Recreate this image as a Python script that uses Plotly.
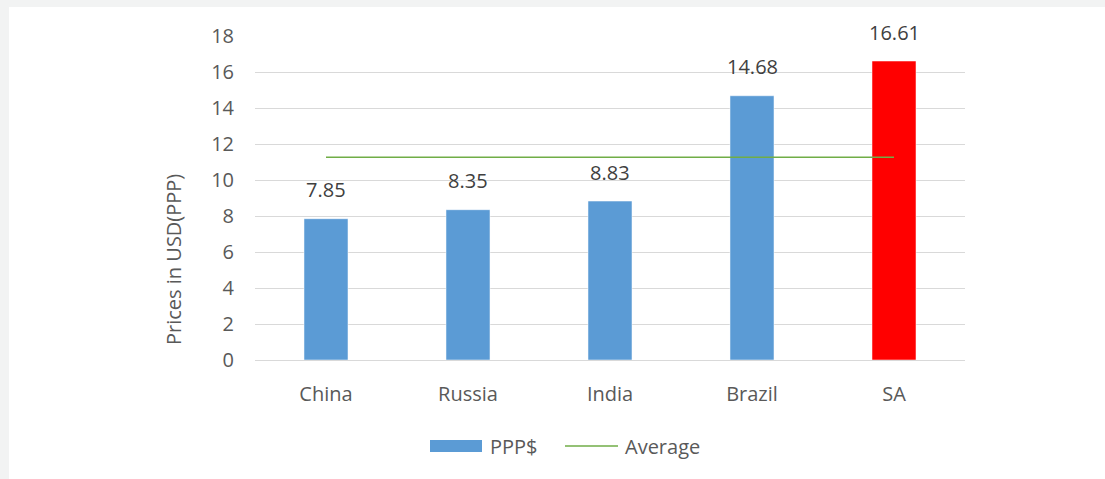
import plotly.graph_objects as go

categories = ["China", "Russia", "India", "Brazil", "SA"]
ppp_values = [7.85, 8.35, 8.83, 14.68, 16.61]
bar_colors = ["#5b9bd5", "#5b9bd5", "#5b9bd5", "#5b9bd5", "#ff0000"]
value_labels = ["7.85", "8.35", "8.83", "14.68", "16.61"]
y_ticks = [0, 2, 4, 6, 8, 10, 12, 14, 16, 18]
series_names = ["PPP$", "Average"]

average = sum(ppp_values) / len(ppp_values)

W, H = 1105, 479
L, R, T, B = 255, 140, 36, 119
PW, PH = W - L - R, H - T - B


def px(x):
    return (x - L) / PW


def py(y):
    return (H - B - y) / PH


FONT = "Open Sans"
TXT = "#595959"
BLUE = "#5b9bd5"
GREEN = "#70ad47"

fig = go.Figure()
fig.add_trace(go.Bar(
    x=categories, y=ppp_values, name=series_names[0],
    marker=dict(color=bar_colors, line=dict(color="rgba(255,255,255,0.5)", width=1)),
    width=0.31, showlegend=False,
))
fig.add_trace(go.Scatter(
    x=[categories[0], categories[-1]], y=[average, average], name=series_names[1],
    mode="lines", line=dict(color=GREEN, width=1.6), showlegend=False,
))

for c, v, t in zip(categories, ppp_values, value_labels):
    fig.add_annotation(x=c, y=v, text=t, showarrow=False, yanchor="middle",
                       yshift=29, font=dict(family=FONT, size=20, color="#404040"))

fig.add_annotation(xref="paper", yref="paper", x=px(173), y=py(260),
                   text="Prices in USD(PPP)", textangle=-90, showarrow=False,
                   xanchor="center", yanchor="middle",
                   font=dict(family=FONT, size=20, color=TXT))

# legend (drawn manually to reproduce wide swatches)
fig.add_shape(type="rect", xref="paper", yref="paper", x0=px(430), x1=px(482),
              y0=py(452), y1=py(440), fillcolor=BLUE, line_width=0)
fig.add_annotation(xref="paper", yref="paper", x=px(488), y=py(446), text=series_names[0],
                   showarrow=False, xanchor="left", yanchor="middle",
                   font=dict(family=FONT, size=20, color=TXT))
fig.add_shape(type="line", xref="paper", yref="paper", x0=px(565), x1=px(618),
              y0=py(446), y1=py(446), line=dict(color=GREEN, width=1.6))
fig.add_annotation(xref="paper", yref="paper", x=px(623), y=py(446), text=series_names[1],
                   showarrow=False, xanchor="left", yanchor="middle",
                   font=dict(family=FONT, size=20, color=TXT))

gray = "#f2f3f3"
fig.add_shape(type="rect", xref="paper", yref="paper", x0=px(0), x1=px(W),
              y0=py(0), y1=py(7), fillcolor=gray, line_width=0, layer="below")
fig.add_shape(type="rect", xref="paper", yref="paper", x0=px(0), x1=px(9),
              y0=py(0), y1=py(H), fillcolor=gray, line_width=0, layer="below")

fig.update_layout(
    width=W, height=H,
    margin=dict(l=L, r=R, t=T, b=B),
    paper_bgcolor="white", plot_bgcolor="white",
    bargap=0.69,
    showlegend=False,
    font=dict(family=FONT, size=20, color=TXT),
)
fig.update_yaxes(range=[0, 18], tickvals=y_ticks, showgrid=True, gridcolor="#d9d9d9",
                 gridwidth=1, zeroline=False, showline=False,
                 tickfont=dict(family=FONT, size=20, color=TXT), ticklabelstandoff=20)
fig.update_xaxes(showline=True, linecolor="#d9d9d9", linewidth=1, showgrid=False,
                 tickfont=dict(family=FONT, size=20, color=TXT), ticklabelstandoff=16)

fig.write_html("out.html", config={"displayModeBar": False},
               post_script="document.body.style.margin='0';document.body.style.padding='0';")
